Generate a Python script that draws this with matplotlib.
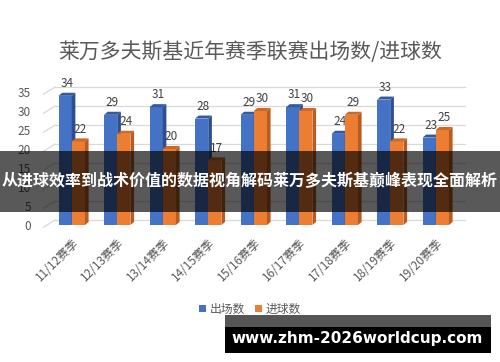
import matplotlib
matplotlib.use('Agg')
import matplotlib.pyplot as plt
from matplotlib.patches import Polygon, Rectangle, Patch

plt.rcParams['font.family'] = ['Noto Sans CJK SC', 'DejaVu Sans']

# 数据
seasons = ['11/12赛季', '12/13赛季', '13/14赛季', '14/15赛季', '15/16赛季',
           '16/17赛季', '17/18赛季', '18/19赛季', '19/20赛季']
appearances = [34, 29, 31, 28, 29, 31, 24, 33, 23]
goals = [22, 24, 20, 17, 30, 30, 29, 22, 25]
series_names = ['出场数', '进球数']
yticks = [0, 5, 10, 15, 20, 25, 30, 35]

title = '莱万多夫斯基近年赛季联赛出场数/进球数'
banner_text = '从进球效率到战术价值的数据视角解码莱万多夫斯基巅峰表现全面解析'
url_text = 'www.zhm-2026worldcup.com'

W, H = 500, 362
fig = plt.figure(figsize=(W / 100, H / 100), dpi=100)
fig.patch.set_facecolor('white')


def px_box(x0, y0, x1, y1):
    # 像素(左上原点) -> figure 坐标
    return [x0 / W, 1 - y1 / H, (x1 - x0) / W, (y1 - y0) / H]


ax = fig.add_axes(px_box(49, 92, 458.5, 225))
ax.set_xlim(-0.5, 8.5)
ax.set_ylim(0, 35)
for s in ax.spines.values():
    s.set_visible(False)

bw = 0.29        # 柱宽
dx, dy = 0.08, 0.8   # 3D 深度
back = 1.3       # 背景墙网格偏移

# 背景网格（带斜线）
for v in yticks:
    ax.plot([-0.37, 8.64], [v + back, v + back], color='#d9d9d9', lw=0.9,
            clip_on=False, zorder=0)
    ax.plot([-0.62, -0.37], [v - 0.6, v + back], color='#d9d9d9', lw=0.9,
            clip_on=False, zorder=0)

styles = [
    ('#4472C4', '#2c4f92', '#34599f'),
    ('#ED7D31', '#b85d1f', '#c96a26'),
]


def bar3d(x, h, colors, z):
    front, side, top = colors
    ax.add_patch(Rectangle((x - bw / 2, 0), bw, h, facecolor=front,
                           edgecolor='none', zorder=z))
    r = x + bw / 2
    l = x - bw / 2
    ax.add_patch(Polygon([(r, 0), (r, h), (r + dx, h + dy), (r + dx, dy)],
                         closed=True, facecolor=side, edgecolor='none', zorder=z))
    ax.add_patch(Polygon([(l, h), (l + dx, h + dy), (r + dx, h + dy), (r, h)],
                         closed=True, facecolor=top, edgecolor='none', zorder=z))
    ax.annotate(str(h), (x + dx / 2, h + dy), xytext=(0, 2),
                textcoords='offset points', ha='center', va='bottom',
                fontsize=8.5, color='#404040', zorder=z + 1)


for i in range(len(seasons)):
    bar3d(i - bw / 2, appearances[i], styles[0], 3)
    bar3d(i + bw / 2, goals[i], styles[1], 4)

ax.set_yticks(yticks)
ax.set_yticklabels([str(v) for v in yticks], fontsize=8.5, color='#595959')
ax.set_xticks(range(len(seasons)))
ax.set_xticklabels(seasons, rotation=45, ha='right', rotation_mode='anchor',
                   fontsize=8.5, color='#595959')
ax.tick_params(axis='both', length=0)
ax.tick_params(axis='y', pad=13)
ax.tick_params(axis='x', pad=8)
ax.set_facecolor('none')

fig.text(0.5, 1 - 52 / H, title, ha='center', va='center', fontsize=15,
         color='#595959')

handles = [Patch(facecolor=styles[0][0]), Patch(facecolor=styles[1][0])]
fig.legend(handles, series_names, loc='center', bbox_to_anchor=(0.5, 1 - 309 / H),
           ncol=2, frameon=False, fontsize=8.5, handlelength=0.6,
           handleheight=0.6, handletextpad=0.3, columnspacing=0.8,
           labelcolor='#595959')

# 半透明横幅
fig.patches.append(Rectangle((0, 1 - 212 / H), 1, 61 / H, transform=fig.transFigure,
                             facecolor='black', alpha=0.65, zorder=10))
fig.text(0.5, 1 - 181 / H, banner_text, ha='center', va='center', fontsize=11.5,
         fontweight='bold', color='white', zorder=11)

# 网址框
fig.patches.append(Rectangle((225 / W, 1 - 327 / H), 266 / W, 12 / H,
                             transform=fig.transFigure, facecolor='#555555', zorder=10))
fig.patches.append(Rectangle((225 / W, 1 - 353 / H), 266 / W, 26 / H,
                             transform=fig.transFigure, facecolor='black', zorder=10))
fig.text(357 / W, 1 - 338 / H, url_text, ha='center', va='center', fontsize=11,
         fontweight='bold', color='white', family='DejaVu Sans', zorder=11)

plt.savefig('out.png', dpi=100)
plt.close()
